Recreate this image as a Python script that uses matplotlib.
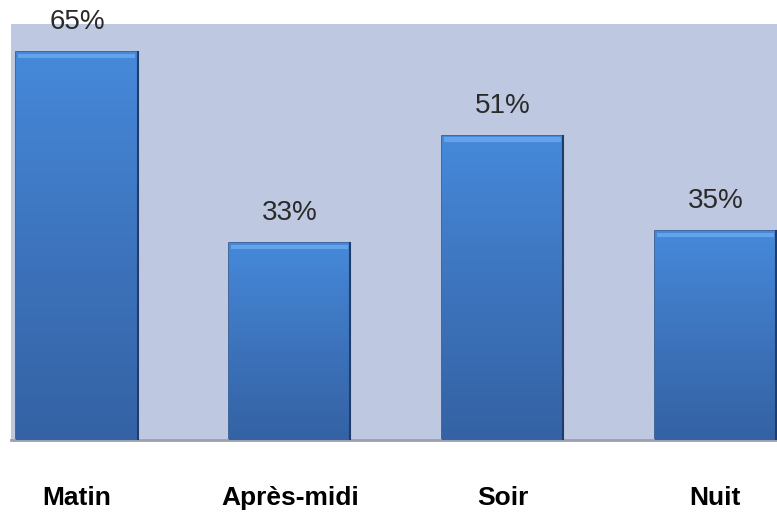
import numpy as np
import matplotlib
matplotlib.use("Agg")
import matplotlib.pyplot as plt
from matplotlib.colors import LinearSegmentedColormap

periodes = ["Matin", "Après-midi", "Soir", "Nuit"]
pourcentages = [65, 33, 51, 35]

plt.rcParams['font.family'] = ['Liberation Sans', 'DejaVu Sans']

fig = plt.figure(figsize=(7.77, 5.13), dpi=100)
ax = fig.add_axes([11 / 777, 73 / 513, 1 - 11 / 777, (440 - 24) / 513])
ax.set_facecolor('#bec8e0')

x = np.arange(len(periodes))
bars = ax.bar(x, pourcentages, width=0.57, color='#3f7bc8',
              edgecolor='#2b568f', linewidth=1.2, zorder=2)

# degrade vertical dans chaque barre
cmap = LinearSegmentedColormap.from_list('barre', ['#3462a4', '#3d74bd', '#4689da'])
grad = np.linspace(0, 1, 256).reshape(-1, 1)
for b in bars:
    x0, w, h = b.get_x(), b.get_width(), b.get_height()
    im = ax.imshow(grad, cmap=cmap, aspect='auto', origin='lower',
                   extent=(x0, x0 + w, 0, h), zorder=3)
    im.set_clip_path(b)
    # reflet clair en haut de la barre
    ax.fill_between([x0 + 0.01, x0 + w - 0.01], h - 1.0, h - 0.25,
                    color='#6aa9ee', alpha=0.85, zorder=4, linewidth=0)
    ax.plot([x0 + w, x0 + w], [0, h], color='#1f3c6a', lw=1.5, zorder=5)

for xi, v in zip(x, pourcentages):
    ax.annotate(f"{v}%", (xi, v), xytext=(0, 12), textcoords='offset points',
                ha='center', va='bottom', fontsize=20, color='#2a2a2a',
                annotation_clip=False)

ax.set_xlim(-0.31, 3.29)
ax.set_ylim(0, 69.7)
ax.set_xticks(x)
ax.set_xticklabels(periodes, fontsize=19, fontweight='bold')
ax.tick_params(axis='x', length=0, pad=33)
ax.set_yticks([])
for s in ['top', 'right', 'left']:
    ax.spines[s].set_visible(False)
ax.spines['bottom'].set_color('#9aa0ae')
ax.spines['bottom'].set_linewidth(2)

fig.savefig('out.png', dpi=100)
